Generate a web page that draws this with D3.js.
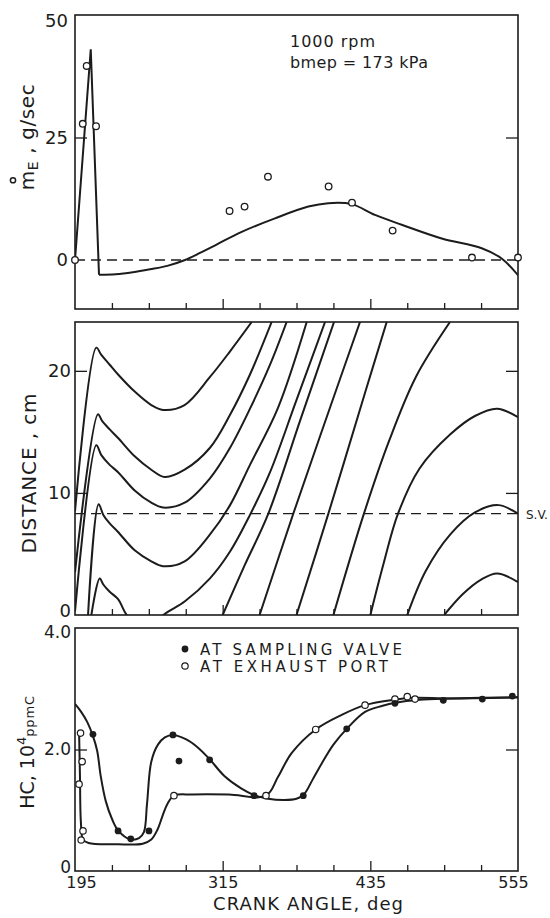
<!DOCTYPE html>
<html>
<head>
<meta charset="utf-8">
<script src="https://cdn.jsdelivr.net/npm/d3@7"></script>
<style>
  html, body { margin: 0; padding: 0; background: #fff; }
  svg { display: block; }
  text { font-family: "DejaVu Sans", sans-serif; fill: #1c1c1c; }
</style>
</head>
<body>
<svg id="chart" width="550" height="918"></svg>
<script>
// ---- Crank angle axis (deg) ----
const angleLabels = [195, 315, 435, 555];
const angleMajor = [315, 435];
const angleMinor = [225, 255, 285, 345, 375, 405, 465, 495, 525];

// ---- Panel 1: exhaust mass flow rate, g/sec ----
const flowTicks = [0, 25, 50];
const flowInnerTicks = [25];
const flowSpike = [[195, 0], [207.8, 43], [214.5, -3]];
const flowCurve = [[214.5, -3], [228, -2.9], [242, -2.5], [256, -1.9], [270, -1.2], [284.4, 0],
  [297, 1.5], [310.4, 3.2], [330, 5.7], [357.5, 8.5], [384.6, 10.9], [400.8, 11.6], [419.8, 11.4],
  [438.8, 9.2], [460.5, 7.2], [493, 4.4], [525.5, 2.4], [541.7, 0.3], [555, -3.1]];
const flowMeasured = [[195, 0], [201.3, 27.8], [204.5, 39.6], [212.1, 27.3], [320.6, 10.0],
  [332.8, 10.9], [351.8, 17.0], [401.1, 15.0], [420.1, 11.7], [453.1, 6.0], [517.6, 0.5], [555, 0.5]];

// ---- Panel 2: element trajectories in the exhaust pipe, cm ----
const distTicks = [0, 10, 20];
const distInnerTicks = [10, 20];
const samplingValve = 8.3;
const trajA = [[195, 8.5], [212.3, 21.9], [216.4, 21.3], [223.2, 20.5], [230, 19.7],
  [243.5, 18.3], [257, 17.2], [266.5, 16.8], [284, 17.2], [304.7, 19.5], [321, 21.6], [338.6, 24]];
const trajB = [[195, 3.5], [213.7, 16.45], [217, 15.9], [223.2, 15.2], [230, 14.5],
  [243.5, 13.0], [257, 11.9], [267.9, 11.3], [284.1, 11.9], [304.7, 13.7], [321, 16.4], [337.2, 19.7], [354.8, 24]];
const trajC = [[195, 0.3], [212.3, 13.9], [216.4, 13.1], [223.2, 12.3], [230, 11.7],
  [243.5, 10.2], [257, 9.2], [266.5, 8.8], [284.1, 9.2], [304.7, 11.2], [321, 13.7], [337.2, 16.9],
  [353.5, 20.5], [367, 24]];
const trajD = [[205.6, 0], [214.2, 9.07], [218, 8.2], [223.2, 7.5], [230, 6.8],
  [243.5, 5.3], [257, 4.4], [266.5, 4.0], [284.1, 4.4], [304.7, 6.6], [321, 9.0], [337.2, 12.3],
  [359.7, 16.9], [383.3, 24]];
const trajE = [[208.3, 0], [215.1, 3.0], [218, 2.5], [223.2, 1.9], [230, 1.3], [237, 0],
  [252, -1.6], [266.8, 0], [284.1, 1.1], [304.7, 3.0], [321, 5.2], [337.2, 8.2], [353.5, 11.7],
  [374.6, 17.5], [398.2, 24]];
const trajF = [[315, 0], [333, 4.1], [352.1, 8.3], [378.2, 16], [405.5, 24]];
const trajG = [[345, 0], [372.4, 8.3], [399.5, 16.2], [426.6, 24]];
const trajH = [[375, 0], [400.9, 8.3], [430.7, 18.2], [448.3, 24]];
const trajI = [[405, 0], [429.8, 8.3], [450, 14.2], [472, 19.5], [499.7, 24]];
const trajJ = [[435, 0], [446, 4.3], [457.5, 8.3], [475, 12], [500, 14.8], [520, 16.3], [538, 16.9], [555, 16.2]];
const trajK = [[465, 0], [480, 3.6], [500, 6.6], [520, 8.4], [539, 9.0], [555, 8.3]];
const trajL = [[495, 0], [510, 1.7], [525, 2.9], [538, 3.4], [555, 2.7]];
const trajectories = [trajA, trajB, trajC, trajD, trajE, trajF, trajG, trajH, trajI, trajJ, trajK, trajL];

// ---- Panel 3: HC concentration, 10^4 ppmC ----
const hcTicks = [0, 2, 4];
const hcInnerTicks = [2];
const hcValvePoints = [[209.6, 2.25], [230, 0.66], [240.3, 0.53], [255.1, 0.66], [274.6, 2.24],
  [279.5, 1.81], [304.4, 1.83], [340.5, 1.24], [380.5, 1.24], [415.8, 2.34], [455, 2.76],
  [494.3, 2.81], [526, 2.83], [550.4, 2.88]];
const hcPortPoints = [[199.5, 2.27], [200.8, 1.8], [198.3, 1.43], [201.5, 0.66], [200, 0.51],
  [275.4, 1.24], [350.2, 1.24], [390.6, 2.33], [430.7, 2.73], [455, 2.83], [465, 2.87], [471.3, 2.83]];
const hcValveCurve = [[195, 2.75], [200, 2.62], [205, 2.45], [209.6, 2.22], [213, 1.98], [216, 1.55],
  [220, 1.15], [225, 0.86], [230, 0.67], [240, 0.52], [247, 0.54], [251, 0.64],
  [253.5, 1.1], [257, 1.8], [262.4, 2.08], [268, 2.2], [274.6, 2.24], [285, 2.17],
  [295, 2.03], [304.4, 1.84], [316.6, 1.56], [330, 1.36], [340.5, 1.25], [352, 1.19], [365, 1.17],
  [375, 1.19], [381, 1.26], [388, 1.5], [395.5, 1.77], [405, 2.08], [415.8, 2.34], [430.7, 2.62],
  [445, 2.72], [455, 2.77], [475, 2.82], [500, 2.84], [555, 2.86]];
const hcPortCurve = [[198.3, 2.3], [199, 1.6], [199.8, 0.8], [201.5, 0.52], [206, 0.46], [230, 0.44],
  [250, 0.45], [257, 0.52], [262, 0.68], [266, 0.9], [270, 1.1], [275.4, 1.24], [290, 1.26],
  [320, 1.26], [350.2, 1.24], [360, 1.55], [371, 1.94], [390.6, 2.33], [411.7, 2.57], [430.7, 2.73],
  [455, 2.82], [470, 2.85], [500, 2.84], [555, 2.86]];
const legendLabels = ["AT SAMPLING VALVE", "AT EXHAUST PORT"];

// ---- Scales ----
const ink = "#1c1c1c";
const left = 75, right = 518;
const x = d3.scaleLinear().domain([195, 555]).range([left, right]);
const panels = {
  flow: { top: 15, bottom: 309 },
  dist: { top: 322, bottom: 615 },
  hc: { top: 628, bottom: 871 }
};
const yFlow = d3.scaleLinear().domain([-10, 50]).range([panels.flow.bottom, panels.flow.top]);
const yDist = d3.scaleLinear().domain([0, 24]).range([panels.dist.bottom, panels.dist.top]);
const yHC = d3.scaleLinear().domain([0, 4]).range([panels.hc.bottom, panels.hc.top]);

const svg = d3.select("#chart");
const defs = svg.append("defs");

function clipFor(id, p) {
  defs.append("clipPath").attr("id", id)
    .append("rect").attr("x", left).attr("y", p.top)
    .attr("width", right - left).attr("height", p.bottom - p.top);
  return `url(#${id})`;
}

function styleAxis(g) {
  g.select(".domain").remove();
  g.selectAll(".tick line").attr("stroke", ink).attr("stroke-width", 1.3);
  g.selectAll(".tick text").attr("fill", ink).style("font-family", '"DejaVu Sans", sans-serif');
}

// labels at the panel corners sit just inside the frame
function frameAndTicks(p, yScale, labelTicks, innerTicks, fmt, fontSize, pad, nudge) {
  svg.append("g").attr("transform", `translate(0,${p.bottom})`)
    .call(d3.axisBottom(x).tickValues(angleMinor).tickSize(-6).tickFormat(""))
    .call(styleAxis);
  svg.append("g").attr("transform", `translate(0,${p.bottom})`)
    .call(d3.axisBottom(x).tickValues(angleMajor).tickSize(-10).tickFormat(""))
    .call(styleAxis);
  svg.append("g").attr("transform", `translate(${left},0)`)
    .call(d3.axisLeft(yScale).tickValues(labelTicks).tickSize(0).tickPadding(pad).tickFormat(fmt))
    .call(styleAxis)
    .call(g => g.selectAll("text").style("font-size", fontSize + "px")
      .attr("transform", d => `translate(0,${nudge(d)})`));
  svg.append("g").attr("transform", `translate(${left},0)`)
    .call(d3.axisLeft(yScale).tickValues(innerTicks).tickSize(-12).tickFormat(""))
    .call(styleAxis);
  svg.append("g").attr("transform", `translate(${right},0)`)
    .call(d3.axisRight(yScale).tickValues(innerTicks).tickSize(-12).tickFormat(""))
    .call(styleAxis);
  svg.append("rect")
    .attr("x", left).attr("y", p.top)
    .attr("width", right - left).attr("height", p.bottom - p.top)
    .attr("fill", "none").attr("stroke", ink).attr("stroke-width", 1.6);
}

const smooth = (ys) => d3.line().x(d => x(d[0])).y(d => ys(d[1])).curve(d3.curveCatmullRom.alpha(0.5));
const straight = (ys) => d3.line().x(d => x(d[0])).y(d => ys(d[1]));

function dashedLevel(ys, v) {
  svg.append("line")
    .attr("x1", x(195)).attr("x2", x(555))
    .attr("y1", ys(v)).attr("y2", ys(v))
    .attr("stroke", ink).attr("stroke-width", 1.3)
    .attr("stroke-dasharray", "10,6");
}

// ================= Panel 1 =================
{
  const clip = clipFor("clip-flow", panels.flow);
  dashedLevel(yFlow, 0);
  const g = svg.append("g").attr("clip-path", clip);
  g.append("path").attr("d", straight(yFlow)(flowSpike))
    .attr("fill", "none").attr("stroke", ink).attr("stroke-width", 2).attr("stroke-linejoin", "miter");
  g.append("path").attr("d", smooth(yFlow)(flowCurve))
    .attr("fill", "none").attr("stroke", ink).attr("stroke-width", 2);
  frameAndTicks(panels.flow, yFlow, flowTicks, flowInnerTicks, d3.format("d"), 18, 7,
    d => d === 50 ? 6 : 0);
  svg.append("g").selectAll("circle").data(flowMeasured).join("circle")
    .attr("cx", d => x(d[0])).attr("cy", d => yFlow(d[1])).attr("r", 3.3)
    .attr("fill", "#fff").attr("stroke", ink).attr("stroke-width", 1.3);

  svg.append("text").attr("x", 290).attr("y", 47).attr("textLength", 85)
    .attr("lengthAdjust", "spacing").style("font-size", "16px").text("1000 rpm");
  svg.append("text").attr("x", 290).attr("y", 68).attr("textLength", 138)
    .attr("lengthAdjust", "spacing").style("font-size", "16px").text("bmep = 173 kPa");

  // rotated title: m with a dot-ring (rate), subscript E
  const t = svg.append("text")
    .attr("transform", "translate(34,137) rotate(-90)")
    .attr("text-anchor", "middle")
    .style("font-size", "20px").style("letter-spacing", "0.6px");
  t.append("tspan").text("m");
  t.append("tspan").attr("dy", 4).style("font-size", "14px").text("E");
  t.append("tspan").attr("dy", -4).text(" , g/sec");
  const node = t.node();
  const total = node.getComputedTextLength();
  const mW = node.getSubStringLength(0, 1);
  svg.append("circle")
    .attr("transform", "translate(34,137) rotate(-90)")
    .attr("cx", -total / 2 + mW / 2).attr("cy", -21).attr("r", 2.6)
    .attr("fill", "none").attr("stroke", ink).attr("stroke-width", 1.5);
}

// ================= Panel 2 =================
{
  const clip = clipFor("clip-dist", panels.dist);
  dashedLevel(yDist, samplingValve);
  const g = svg.append("g").attr("clip-path", clip);
  g.selectAll("path").data(trajectories).join("path")
    .attr("d", smooth(yDist))
    .attr("fill", "none").attr("stroke", ink).attr("stroke-width", 2);
  frameAndTicks(panels.dist, yDist, distTicks, distInnerTicks, d3.format("d"), 18, 4,
    d => d === 0 ? -4 : 0);
  svg.append("text").attr("x", right + 8).attr("y", yDist(samplingValve) + 5)
    .style("font-size", "12px").text("S.V.");
  svg.append("text")
    .attr("transform", `translate(36,${(panels.dist.top + panels.dist.bottom) / 2 + 5}) rotate(-90)`)
    .attr("text-anchor", "middle").attr("textLength", 160).attr("lengthAdjust", "spacing")
    .style("font-size", "20px").text("DISTANCE , cm");
}

// ================= Panel 3 =================
{
  const clip = clipFor("clip-hc", panels.hc);
  const g = svg.append("g").attr("clip-path", clip);
  g.append("path").attr("d", smooth(yHC)(hcValveCurve))
    .attr("fill", "none").attr("stroke", ink).attr("stroke-width", 2);
  g.append("path").attr("d", smooth(yHC)(hcPortCurve))
    .attr("fill", "none").attr("stroke", ink).attr("stroke-width", 2);
  frameAndTicks(panels.hc, yHC, hcTicks, hcInnerTicks, d => d === 0 ? "0" : d3.format(".1f")(d), 17, 4,
    d => d === 4 ? 4 : d === 0 ? -4 : 0);
  svg.append("g").selectAll("circle").data(hcPortPoints).join("circle")
    .attr("cx", d => x(d[0])).attr("cy", d => yHC(d[1])).attr("r", 3.2)
    .attr("fill", "#fff").attr("stroke", ink).attr("stroke-width", 1.2);
  svg.append("g").selectAll("circle").data(hcValvePoints).join("circle")
    .attr("cx", d => x(d[0])).attr("cy", d => yHC(d[1])).attr("r", 3.4)
    .attr("fill", ink);

  // crank angle labels
  svg.append("g").attr("transform", `translate(0,${panels.hc.bottom})`)
    .call(d3.axisBottom(x).tickValues(angleLabels).tickSize(0).tickPadding(6))
    .call(styleAxis)
    .call(g2 => g2.selectAll("text").style("font-size", "16px")
      .attr("dx", d => d === 195 ? 6 : d === 555 ? -5 : 0));
  svg.append("text").attr("x", 213).attr("y", 910).attr("textLength", 190)
    .attr("lengthAdjust", "spacing").style("font-size", "18px").text("CRANK ANGLE, deg");

  // legend
  const lg = svg.append("g");
  lg.append("circle").attr("cx", 185).attr("cy", 649).attr("r", 3.4).attr("fill", ink);
  lg.append("circle").attr("cx", 185).attr("cy", 666).attr("r", 3.2)
    .attr("fill", "#fff").attr("stroke", ink).attr("stroke-width", 1.2);
  lg.append("text").attr("x", 200).attr("y", 654.5).attr("textLength", 202)
    .attr("lengthAdjust", "spacing").style("font-size", "15px").text(legendLabels[0]);
  lg.append("text").attr("x", 200).attr("y", 671.5).attr("textLength", 188)
    .attr("lengthAdjust", "spacing").style("font-size", "15px").text(legendLabels[1]);

  // rotated title: HC, 10^4 ppmC
  const t = svg.append("text")
    .attr("transform", "translate(34,752) rotate(-90)")
    .attr("text-anchor", "middle").style("font-size", "19px");
  t.append("tspan").text("HC, 10");
  t.append("tspan").attr("dy", -8).style("font-size", "13px").text("4");
  t.append("tspan").attr("dy", 8).style("font-size", "13px").style("letter-spacing", "0.8px").text("ppmC");
}
</script>
</body>
</html>
